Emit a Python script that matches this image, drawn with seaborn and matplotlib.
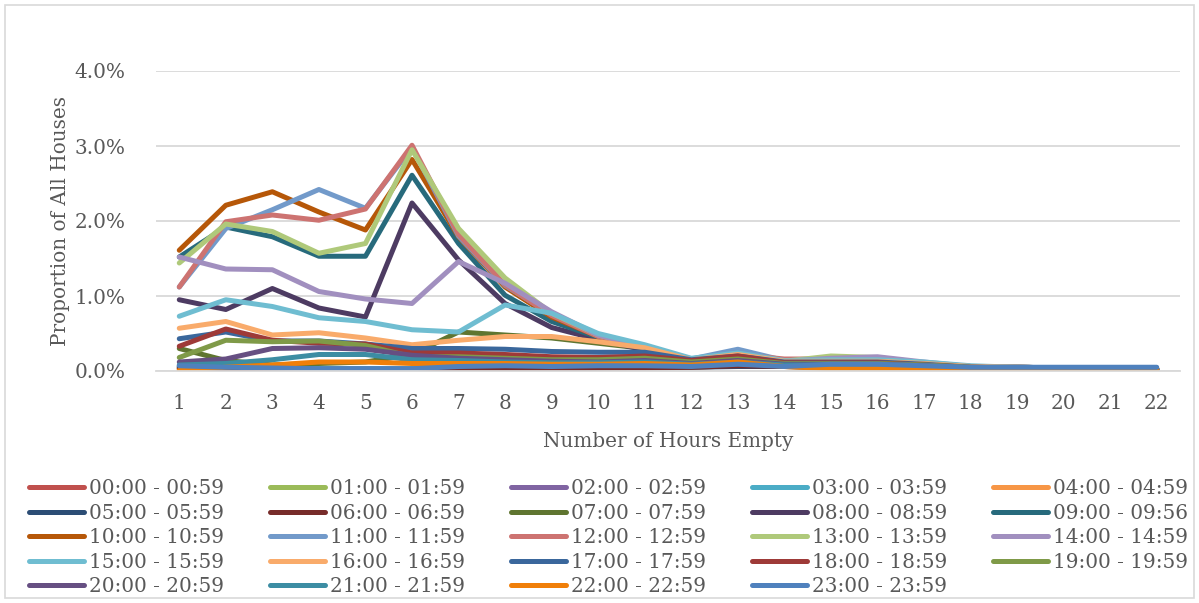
import matplotlib
matplotlib.use("Agg")
import matplotlib.pyplot as plt
from matplotlib.patches import Rectangle
from matplotlib.ticker import PercentFormatter
import pandas as pd
import seaborn as sns

# Number of hours a house stays empty (x axis)
hours_empty = list(range(1, 23))

# Start-of-absence hour bands (legend labels)
periods = [
    "00:00 - 00:59", "01:00 - 01:59", "02:00 - 02:59", "03:00 - 03:59",
    "04:00 - 04:59", "05:00 - 05:59", "06:00 - 06:59", "07:00 - 07:59",
    "08:00 - 08:59", "09:00 - 09:56", "10:00 - 10:59", "11:00 - 11:59",
    "12:00 - 12:59", "13:00 - 13:59", "14:00 - 14:59", "15:00 - 15:59",
    "16:00 - 16:59", "17:00 - 17:59", "18:00 - 18:59", "19:00 - 19:59",
    "20:00 - 20:59", "21:00 - 21:59", "22:00 - 22:59", "23:00 - 23:59",
]

# Proportion of all houses (%), one list per start hour
h00 = [0.05, 0.04, 0.03, 0.03, 0.03, 0.03, 0.04, 0.04, 0.04, 0.05, 0.06, 0.06, 0.10, 0.08, 0.06, 0.05, 0.04, 0.03, 0.03, 0.03, 0.02, 0.02]
h01 = [0.04, 0.03, 0.03, 0.03, 0.02, 0.03, 0.03, 0.04, 0.04, 0.05, 0.05, 0.06, 0.08, 0.07, 0.06, 0.05, 0.04, 0.03, 0.03, 0.02, 0.02, 0.02]
h02 = [0.06, 0.04, 0.03, 0.03, 0.03, 0.03, 0.04, 0.05, 0.05, 0.06, 0.07, 0.08, 0.10, 0.09, 0.08, 0.07, 0.05, 0.04, 0.03, 0.03, 0.02, 0.02]
h03 = [0.06, 0.04, 0.04, 0.03, 0.03, 0.03, 0.04, 0.05, 0.06, 0.07, 0.08, 0.08, 0.10, 0.09, 0.08, 0.08, 0.06, 0.04, 0.03, 0.03, 0.02, 0.02]
h04 = [0.02, 0.01, 0.01, 0.01, 0.02, 0.02, 0.02, 0.03, 0.03, 0.04, 0.05, 0.05, 0.07, 0.06, 0.05, 0.05, 0.04, 0.03, 0.02, 0.02, 0.02, 0.01]
h05 = [0.04, 0.02, 0.01, 0.01, 0.01, 0.01, 0.02, 0.02, 0.03, 0.04, 0.05, 0.05, 0.06, 0.06, 0.05, 0.04, 0.04, 0.03, 0.02, 0.02, 0.02, 0.01]
h06 = [0.03, 0.02, 0.01, 0.01, 0.01, 0.01, 0.02, 0.02, 0.03, 0.04, 0.04, 0.05, 0.07, 0.06, 0.05, 0.04, 0.04, 0.03, 0.02, 0.02, 0.02, 0.01]
h07 = [0.30, 0.14, 0.08, 0.10, 0.12, 0.22, 0.52, 0.48, 0.44, 0.37, 0.30, 0.15, 0.18, 0.12, 0.13, 0.12, 0.09, 0.05, 0.04, 0.03, 0.03, 0.02]
h08 = [0.95, 0.82, 1.10, 0.84, 0.72, 2.24, 1.48, 0.90, 0.58, 0.42, 0.28, 0.14, 0.22, 0.12, 0.14, 0.13, 0.10, 0.06, 0.05, 0.04, 0.04, 0.03]
h09 = [1.52, 1.92, 1.79, 1.53, 1.53, 2.61, 1.70, 1.01, 0.66, 0.45, 0.30, 0.15, 0.25, 0.13, 0.15, 0.14, 0.10, 0.06, 0.05, 0.04, 0.04, 0.03]
h10 = [1.61, 2.21, 2.39, 2.12, 1.88, 2.82, 1.79, 1.12, 0.72, 0.46, 0.31, 0.15, 0.26, 0.13, 0.15, 0.14, 0.10, 0.06, 0.05, 0.04, 0.04, 0.03]
h11 = [1.12, 1.90, 2.15, 2.42, 2.17, 2.98, 1.80, 1.14, 0.75, 0.48, 0.32, 0.16, 0.29, 0.14, 0.16, 0.15, 0.11, 0.06, 0.05, 0.04, 0.04, 0.03]
h12 = [1.12, 1.99, 2.08, 2.01, 2.16, 3.01, 1.82, 1.15, 0.74, 0.46, 0.31, 0.16, 0.22, 0.16, 0.16, 0.15, 0.11, 0.06, 0.05, 0.04, 0.04, 0.03]
h13 = [1.44, 1.96, 1.86, 1.57, 1.70, 2.95, 1.90, 1.24, 0.77, 0.48, 0.32, 0.16, 0.22, 0.13, 0.20, 0.18, 0.11, 0.06, 0.05, 0.04, 0.04, 0.03]
h14 = [1.52, 1.36, 1.35, 1.06, 0.96, 0.90, 1.46, 1.17, 0.79, 0.48, 0.32, 0.16, 0.22, 0.13, 0.17, 0.19, 0.12, 0.06, 0.05, 0.04, 0.04, 0.03]
h15 = [0.73, 0.95, 0.86, 0.71, 0.66, 0.55, 0.52, 0.88, 0.77, 0.50, 0.35, 0.17, 0.24, 0.14, 0.15, 0.15, 0.12, 0.07, 0.05, 0.04, 0.04, 0.03]
h16 = [0.57, 0.66, 0.48, 0.51, 0.44, 0.35, 0.41, 0.46, 0.46, 0.39, 0.31, 0.15, 0.22, 0.13, 0.13, 0.13, 0.10, 0.06, 0.05, 0.04, 0.03, 0.03]
h17 = [0.43, 0.52, 0.40, 0.40, 0.36, 0.30, 0.30, 0.29, 0.26, 0.25, 0.25, 0.15, 0.20, 0.12, 0.12, 0.12, 0.09, 0.05, 0.04, 0.04, 0.03, 0.03]
h18 = [0.33, 0.56, 0.41, 0.37, 0.36, 0.24, 0.24, 0.22, 0.19, 0.18, 0.20, 0.14, 0.20, 0.11, 0.11, 0.11, 0.08, 0.05, 0.04, 0.03, 0.03, 0.03]
h19 = [0.18, 0.41, 0.39, 0.40, 0.34, 0.19, 0.19, 0.17, 0.15, 0.15, 0.17, 0.12, 0.16, 0.10, 0.10, 0.10, 0.08, 0.05, 0.04, 0.03, 0.03, 0.02]
h20 = [0.12, 0.16, 0.30, 0.31, 0.29, 0.21, 0.17, 0.15, 0.13, 0.12, 0.14, 0.10, 0.14, 0.09, 0.09, 0.09, 0.07, 0.04, 0.04, 0.03, 0.03, 0.02]
h21 = [0.08, 0.10, 0.15, 0.22, 0.22, 0.15, 0.14, 0.12, 0.11, 0.11, 0.12, 0.09, 0.12, 0.08, 0.08, 0.08, 0.06, 0.04, 0.03, 0.03, 0.03, 0.02]
h22 = [0.01, 0.05, 0.08, 0.12, 0.12, 0.10, 0.10, 0.10, 0.09, 0.09, 0.10, 0.08, 0.12, 0.06, 0.03, 0.03, 0.03, 0.01, 0.01, 0.01, 0.01, 0.01]
h23 = [0.07, 0.05, 0.04, 0.03, 0.03, 0.03, 0.06, 0.07, 0.06, 0.07, 0.07, 0.06, 0.09, 0.06, 0.09, 0.09, 0.07, 0.05, 0.05, 0.05, 0.05, 0.05]

series = [h00, h01, h02, h03, h04, h05, h06, h07, h08, h09, h10, h11,
          h12, h13, h14, h15, h16, h17, h18, h19, h20, h21, h22, h23]

colors = [
    "#C0504D", "#9BBB59", "#8064A2", "#4BACC6", "#F79646", "#2C4D75",
    "#772C2A", "#5F7530", "#4D3B62", "#276A7C", "#B65708", "#729ACA",
    "#CD7371", "#AFC97A", "#A18FBF", "#6FBDD1", "#F9AB6B", "#3A679C",
    "#9E3A38", "#7F9A48", "#664F82", "#3C8DA3", "#F07F09", "#4F81BD",
]

rows = []
for label, vals in zip(periods, series):
    for h, v in zip(hours_empty, vals):
        rows.append({"hours": h, "share": v / 100.0, "period": label})
df = pd.DataFrame(rows)

sns.set_theme(style="white")
plt.rcParams["font.family"] = ["DejaVu Serif"]
text_color = "#595959"
grid_color = "#D9D9D9"

W, H = 1199, 603
fig = plt.figure(figsize=(W / 100, H / 100), dpi=100)
fig.patch.set_facecolor("white")

# outer chart border
fig.add_artist(Rectangle((5 / W, 5 / H), (W - 10) / W, (H - 10) / H,
                         transform=fig.transFigure, fill=False,
                         edgecolor=grid_color, linewidth=1.2))

ax = fig.add_axes([156 / W, (H - 371) / H, 1024 / W, 300 / H])

sns.lineplot(data=df, x="hours", y="share", hue="period", hue_order=periods,
             palette=dict(zip(periods, colors)), linewidth=3.6,
             legend=True, ax=ax)
for line in ax.lines:
    line.set_solid_capstyle("round")
    line.set_solid_joinstyle("round")

ax.set_xlim(0.5, 22.5)
ax.set_ylim(0, 0.04)
ax.set_xticks(hours_empty)
ax.set_yticks([0, 0.01, 0.02, 0.03, 0.04])
ax.yaxis.set_major_formatter(PercentFormatter(xmax=1, decimals=1))
ax.grid(axis="y", color=grid_color, linewidth=1.3)
ax.set_axisbelow(True)
for side in ["top", "right", "left"]:
    ax.spines[side].set_visible(False)
ax.spines["bottom"].set_color(grid_color)
ax.spines["bottom"].set_linewidth(1.3)
ax.tick_params(axis="both", length=0, labelsize=14.4, colors=text_color)
ax.tick_params(axis="x", pad=16.5)
ax.tick_params(axis="y", pad=22)
ax.set_xlabel("Number of Hours Empty", fontsize=14.4, color=text_color, labelpad=13.5)
ax.set_ylabel("Proportion of All Houses", fontsize=14.4, color=text_color, labelpad=3)

# legend laid out row by row in five columns
handles, labels = ax.get_legend_handles_labels()
ax.get_legend().remove()
ncol = 5
order = [r * ncol + c for c in range(ncol) for r in range(ncol) if r * ncol + c < len(handles)]
for h in handles:
    h.set_linewidth(3.6)
    h.set_solid_capstyle("round")
leg = fig.legend([handles[i] for i in order], [labels[i] for i in order],
                 ncol=ncol, loc="upper left", bbox_to_anchor=(29 / W, 1 - 479 / H),
                 frameon=False, fontsize=14.4, handlelength=2.75,
                 handletextpad=0.25, columnspacing=2.3, labelspacing=0.28,
                 borderpad=0, borderaxespad=0)
for t in leg.get_texts():
    t.set_color(text_color)

fig.savefig("out.png", dpi=100, facecolor="white")
